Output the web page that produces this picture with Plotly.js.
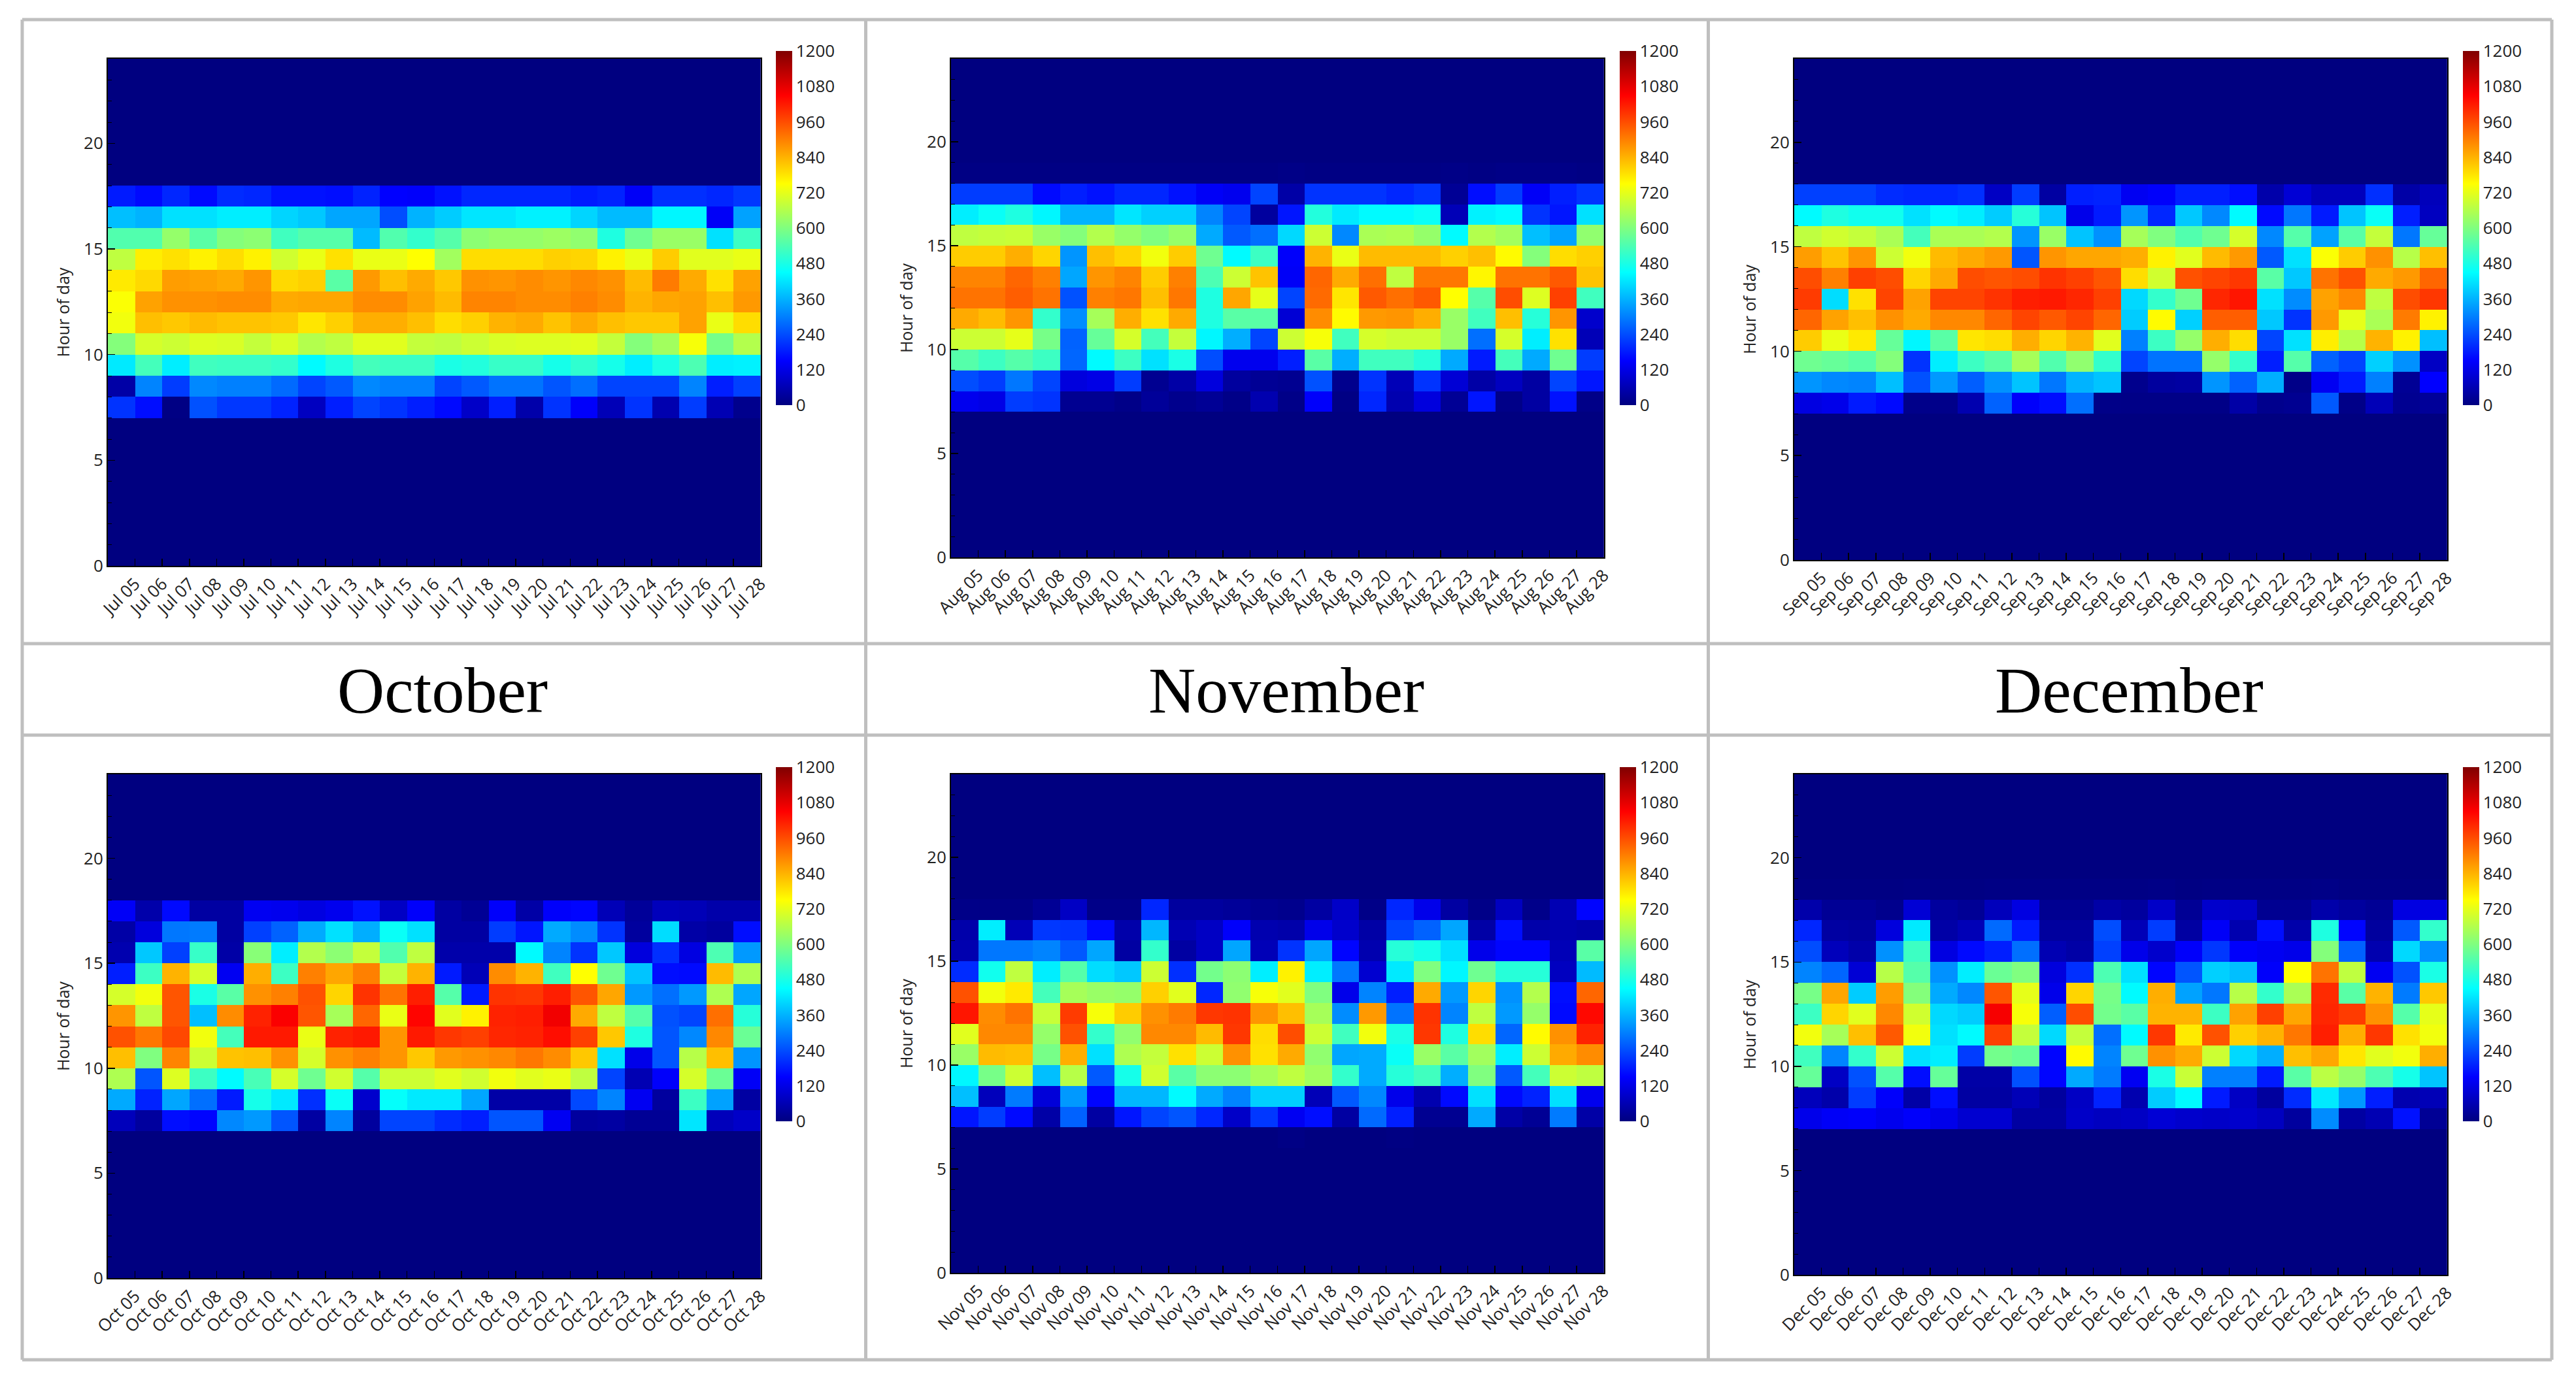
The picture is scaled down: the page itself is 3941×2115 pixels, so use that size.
<!DOCTYPE html>
<html><head><meta charset="utf-8">
<script src="https://cdn.plot.ly/plotly-3.0.1.min.js"></script>
<style>html,body{margin:0;padding:0;background:#fff}#g{width:3941px;height:2115px}</style>
</head><body><div id="g"></div>
<script>
const dayNumbers=['05','06','07','08','09','10','11','12','13','14','15','16','17','18','19','20','21','22','23','24','25','26','27','28'];
const monthLabels=['October','November','December'];
const prefixes=['Jul','Aug','Sep','Oct','Nov','Dec'];
const colorTicks=[0,120,240,360,480,600,720,840,960,1080,1200];
const jetScale=[[0,'#000080'],[0.125,'#0000ff'],[0.375,'#00ffff'],[0.625,'#ffff00'],[0.875,'#ff0000'],[1,'#800000']];
// rows are hours 7 through 17
const jul=[
[210,165,5,245,215,215,190,75,185,230,210,185,160,85,185,50,210,145,65,210,55,220,60,15],
[45,305,220,310,300,300,275,230,255,310,300,300,230,255,285,285,250,280,230,230,230,305,185,225],
[425,530,430,525,520,520,510,445,485,530,520,520,480,490,515,515,475,505,475,430,480,540,430,435],
[605,700,690,710,705,680,705,660,675,715,715,680,675,690,705,710,710,715,680,605,640,740,590,660],
[735,825,815,830,820,820,815,780,805,845,845,825,790,805,840,850,820,850,825,815,815,860,725,790],
[745,860,880,880,885,885,850,855,855,885,885,860,830,895,895,885,885,900,885,840,855,860,825,870],
[775,795,865,860,850,875,795,805,555,870,825,850,815,880,875,885,875,890,880,830,905,850,785,860],
[675,770,785,765,790,765,695,725,785,725,725,750,640,790,790,790,805,800,765,725,810,715,715,725],
[545,545,625,555,605,615,525,550,550,370,545,510,550,615,625,625,635,620,485,580,630,630,415,520],
[375,360,415,415,430,430,400,385,345,345,240,360,390,420,420,435,435,400,370,370,440,440,140,340],
[180,160,195,160,200,195,170,170,165,190,150,145,170,195,195,195,195,180,190,140,205,205,195,215]];
const aug=[
[130,120,220,210,20,20,10,30,15,25,10,55,10,145,5,195,55,110,25,175,10,40,170,10],
[240,220,290,230,110,120,220,20,45,110,35,25,20,245,15,210,65,210,100,45,75,40,230,175],
[550,520,550,520,270,445,520,415,480,240,130,130,185,555,355,525,525,495,350,180,530,350,580,220],
[690,690,720,590,265,570,700,530,680,440,355,230,690,740,525,700,690,690,630,280,700,430,785,65],
[850,830,875,510,315,645,845,785,850,485,555,555,100,885,755,870,875,845,630,525,825,495,875,90],
[915,915,940,915,245,900,910,825,910,485,855,720,230,925,780,945,920,945,750,550,960,710,975,525],
[895,895,930,900,345,875,895,810,900,540,690,820,140,930,850,920,675,910,910,760,915,915,945,820],
[810,810,845,800,325,825,800,735,810,580,445,520,145,840,725,830,830,830,805,825,755,605,790,805],
[675,680,685,630,605,660,625,600,625,350,255,280,405,690,310,650,655,625,445,660,640,375,340,620],
[430,460,485,440,360,360,420,395,395,305,230,35,175,490,425,445,445,460,65,435,445,210,175,415],
[220,220,220,160,185,170,195,195,170,140,130,230,45,210,210,210,195,210,25,165,220,140,185,210]];
const sep=[
[115,125,180,160,12,12,55,265,145,165,280,10,8,8,8,8,45,15,20,255,10,65,20,30],
[325,310,305,375,245,330,260,320,380,290,360,380,15,35,40,325,265,355,10,135,180,300,25,150],
[580,570,555,605,210,430,520,555,645,545,620,510,230,285,285,625,510,185,550,265,230,395,320,80],
[810,725,775,570,440,555,780,790,845,800,840,715,300,520,625,845,790,230,415,770,665,840,765,375],
[930,860,825,880,850,890,890,930,970,945,970,930,390,755,395,940,940,385,210,870,720,650,905,765],
[980,410,785,970,860,970,970,990,1015,1020,1005,975,405,510,580,1005,1025,415,315,860,890,675,960,985],
[960,900,975,960,800,850,960,950,960,990,975,950,790,695,955,970,985,555,385,915,955,850,870,930],
[865,820,875,690,735,830,850,870,250,875,855,855,845,765,715,830,870,255,415,745,810,880,665,825],
[675,695,680,650,530,650,650,660,325,630,380,320,645,600,545,580,700,310,550,340,555,680,290,570],
[445,485,470,470,415,445,430,390,495,380,125,180,325,195,385,310,445,160,290,180,380,460,185,75],
[225,225,225,200,195,195,205,80,220,40,185,190,135,145,185,185,165,50,100,70,70,205,45,70]];
const oct=[
[70,35,165,155,310,330,250,40,305,35,230,230,200,185,250,250,135,35,40,25,25,420,70,85],
[350,190,345,280,180,475,425,205,460,90,455,425,425,345,45,45,45,235,305,135,35,520,340,40],
[655,250,710,520,445,535,700,580,695,550,690,690,715,695,735,715,725,675,230,60,145,700,575,140],
[825,600,895,690,820,825,880,700,880,900,875,815,870,880,890,910,885,815,415,125,250,665,825,325],
[955,910,965,735,530,1020,1020,725,1010,1020,875,1020,985,975,1005,1010,1035,975,815,485,250,310,890,575],
[875,675,950,375,885,1010,1055,950,645,930,725,1045,715,765,1010,1015,1065,850,675,550,245,230,920,495],
[700,735,950,480,555,880,900,955,800,990,915,1015,550,180,990,985,1015,950,855,330,280,330,655,345],
[185,520,840,700,135,845,520,900,855,900,680,840,180,65,885,840,525,750,580,380,165,160,830,655],
[55,385,225,515,45,610,430,660,615,680,545,675,50,50,50,445,305,210,385,110,205,115,540,330],
[45,110,290,295,40,225,265,350,415,355,460,415,40,40,220,175,350,315,210,35,410,45,35,165],
[140,50,160,40,40,135,130,115,130,170,80,145,40,25,145,45,145,155,65,30,70,65,50,50]];
const nov=[
[175,220,160,45,265,40,175,230,250,195,85,215,135,165,40,275,185,20,20,350,45,25,295,45],
[375,70,295,105,330,155,365,365,445,350,305,395,395,65,255,310,125,55,160,415,160,190,415,130],
[440,590,690,375,665,255,475,695,555,615,615,645,675,640,510,350,495,525,355,600,255,530,690,675],
[630,830,825,590,845,415,655,680,785,690,880,785,850,620,345,350,460,630,555,640,430,690,850,885],
[715,890,890,625,955,510,620,890,890,830,985,790,960,690,525,735,480,985,485,790,270,755,880,1010],
[1025,885,915,685,980,740,810,880,905,985,990,875,825,645,315,870,285,990,305,675,330,625,160,1040],
[955,735,775,530,645,630,625,805,715,195,620,740,715,600,125,305,185,850,330,800,320,660,165,930],
[200,470,675,430,550,410,385,690,205,585,615,430,765,430,290,95,425,600,440,580,495,495,75,370],
[55,290,290,305,255,345,40,510,40,80,345,65,210,345,155,55,495,475,415,125,155,155,65,555],
[50,430,65,215,210,160,50,365,60,80,145,55,50,125,90,45,230,265,345,45,165,50,55,50],
[10,8,8,25,80,10,10,195,35,35,30,20,15,40,85,10,195,125,40,10,75,12,60,155]];
const dec=[
[125,140,145,130,145,125,95,95,40,40,85,75,80,100,90,85,90,75,35,315,40,60,170,25],
[70,50,220,145,45,165,40,40,65,35,80,190,55,390,445,180,80,35,200,425,330,185,55,65],
[570,80,245,550,165,570,45,45,245,155,350,295,135,480,685,300,300,180,555,670,625,540,475,380],
[525,305,510,690,415,430,220,585,570,155,755,305,580,880,850,690,405,355,825,855,780,715,735,845],
[735,645,825,945,735,415,445,975,680,405,680,280,445,985,775,955,805,840,910,1015,845,985,785,735],
[520,800,715,890,695,405,390,1060,740,260,960,585,555,840,840,520,860,975,855,1005,980,880,550,720],
[590,855,390,865,605,350,310,950,720,125,800,590,445,845,340,290,665,510,650,1000,555,840,295,815],
[305,270,100,665,550,320,430,575,600,110,205,540,415,155,250,395,375,145,750,915,675,135,245,480],
[240,70,50,320,520,115,160,185,280,60,45,225,125,90,145,215,145,135,125,605,265,55,405,320],
[195,40,35,110,425,45,65,275,180,35,35,240,65,220,40,140,55,165,50,485,155,35,255,510],
[50,25,25,15,100,35,25,70,115,20,20,45,35,85,25,90,85,20,20,50,35,25,115,115]];
const augHour18=[5,5,5,5,5,5,5,5,5,5,5,5,8,5,5,5,5,5,8,5,8,8,8,5];
const decHour18=[4,4,4,4,6,4,4,6,6,6,6,6,6,8,4,6,6,6,6,8,4,4,4,4];
const novHour6=[0,0,0,0,0,0,0,0,0,0,0,0,6,0,0,0,4,0,0,0,0,0,0,0];

const W=3941,H=2115;
const geom=[
 {l:165,r:1163.5,t:90,b:866,cx:1187,ct:78},
 {l:1455,r:2453.6,t:90,b:853,cx:2477.5,ct:78},
 {l:2745,r:3743.6,t:90,b:857,cx:3767.5,ct:78},
 {l:165,r:1163.5,t:1185,b:1956,cx:1187,ct:1174},
 {l:1455,r:2453.6,t:1185,b:1948,cx:2477.5,ct:1174},
 {l:2745,r:3743.6,t:1185,b:1951,cx:3767.5,ct:1174}];
const months=[jul,aug,sep,oct,nov,dec];
const extras=[{},{18:augHour18},{},{},{6:novHour6},{18:decHour18}];
const textFont={family:'"Open Sans",sans-serif',size:26,color:'#222'};
const data=[],layout={width:W,height:H,margin:{l:0,r:0,t:0,b:0,autoexpand:false},paper_bgcolor:'#fff',plot_bgcolor:'#000080',showlegend:false,shapes:[],annotations:[]};
months.forEach((m,p)=>{
 const g=geom[p],s=p?String(p+1):'';
 const z=[];
 for(let h=0;h<24;h++){
  if(h>=7&&h<=17)z.push(m[h-7]);
  else if(extras[p][h])z.push(extras[p][h]);
  else z.push(dayNumbers.map(()=>0));
 }
 const cats=dayNumbers.map(d=>prefixes[p]+' '+d);
 data.push({type:'heatmap',z:z,x:dayNumbers.map((d,i)=>i+0.5),y:z.map((r,i)=>i+0.5),xaxis:'x'+s,yaxis:'y'+s,
  zmin:0,zmax:1200,colorscale:jetScale,hoverongaps:false,
  colorbar:{thicknessmode:'pixels',thickness:25,lenmode:'pixels',len:542,xref:'paper',yref:'paper',x:g.cx/W,xanchor:'left',y:1-g.ct/H,yanchor:'top',xpad:0,ypad:0,outlinewidth:0,tickmode:'array',tickvals:colorTicks,ticks:'',ticklen:0,tickfont:{family:textFont.family,size:26,color:'#222'}}});
 layout['xaxis'+s]={domain:[g.l/W,g.r/W],anchor:'y'+s,range:[0,24],tickmode:'array',tickvals:cats.map((c,i)=>i+1),ticktext:cats,tickangle:-45,ticks:'inside',ticklen:11,tickwidth:1.5,tickcolor:'#000',tickfont:textFont,showgrid:false,zeroline:false,showline:true,mirror:true,linecolor:'#000',linewidth:2};
 layout['yaxis'+s]={domain:[1-g.b/H,1-g.t/H],anchor:'x'+s,range:[0,24],tick0:0,dtick:5,ticks:'inside',ticklen:11,tickwidth:1.5,tickcolor:'#000',tickfont:textFont,showgrid:false,zeroline:false,showline:true,mirror:true,linecolor:'#000',linewidth:2,
  minor:{dtick:1,ticks:'inside',ticklen:6,tickwidth:1,tickcolor:'#000',showgrid:false},
  title:{text:'Hour of day',font:{family:textFont.family,size:25,color:'#222'},standoff:14}};
});
monthLabels.forEach((t,i)=>layout.annotations.push({xref:'paper',yref:'paper',x:[677,1968,3257][i]/W,y:1-1056/H,text:t,showarrow:false,xanchor:'center',yanchor:'middle',font:{family:'"Liberation Serif",serif',size:100,color:'#000'}}));
const gridV=[34,1324.5,2613.5,3904],gridH=[30,985,1125,2081];
gridV.forEach(x=>layout.shapes.push({type:'line',xref:'paper',yref:'paper',x0:x/W,x1:x/W,y0:1-gridH[0]/H,y1:1-gridH[3]/H,line:{color:'#bfbfbf',width:5}}));
gridH.forEach(y=>layout.shapes.push({type:'line',xref:'paper',yref:'paper',y0:1-y/H,y1:1-y/H,x0:gridV[0]/W,x1:gridV[3]/W,line:{color:'#bfbfbf',width:5}}));
Plotly.newPlot('g',data,layout,{displayModeBar:false,staticPlot:true});
</script></body></html>
